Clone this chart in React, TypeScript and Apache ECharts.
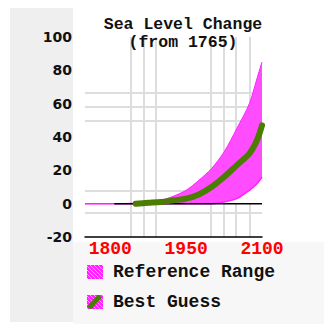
import React, { useEffect, useRef } from "react";
import * as echarts from "echarts";

const years = [1750, 1800, 1850, 1875, 1900, 1925, 1950, 1975, 2000, 2025, 2050, 2075, 2090, 2100];
const upper = [0, 0, 0.3, 1, 2, 4.5, 8, 14, 21, 31, 45, 60, 75, 85];
const lower = [0, 0, 0, 0, 0, 0, 0, 0, 0, 1, 3, 8, 12, 16];
const best = [0, 0, 0, 0.5, 1, 2, 3, 5.5, 10, 16, 23, 30, 38, 47];
const xLabels = [1800, 1950, 2100];
const gridYears = [1840, 1866, 1890, 1998, 2024, 2048, 2076];
const gridValues = [66.5, 58, 49.7, 7.6, -5.6];

function hatchCanvas(w: number, h: number, green: boolean) {
  const c = document.createElement("canvas");
  c.width = w;
  c.height = h;
  const ctx = c.getContext("2d")!;
  ctx.fillStyle = "#ff22ff";
  ctx.fillRect(0, 0, w, h);
  ctx.fillStyle = "#ffaaff";
  for (let y = 0; y < h; y++) {
    for (let x = 0; x < w; x++) {
      if ((x + y) % 4 === 0) ctx.fillRect(x, h - 1 - y, 1, 1);
    }
  }
  if (green) {
    ctx.strokeStyle = "#4b7d00";
    ctx.lineWidth = 5;
    ctx.beginPath();
    ctx.moveTo(2, h - 1);
    ctx.lineTo(w - 3, 1);
    ctx.stroke();
  }
  return c;
}

export default function App() {
  const ref = useRef<HTMLDivElement>(null);
  useEffect(() => {
    if (!ref.current) return;
    const chart = echarts.init(ref.current, null, { renderer: "svg" });
    const iconRange = "image://" + hatchCanvas(16, 14, false).toDataURL();
    const iconBest = "image://" + hatchCanvas(16, 14, true).toDataURL();
    const mono = "'Liberation Mono', 'DejaVu Sans Mono', monospace";
    chart.setOption({
      animation: false,
      backgroundColor: "#ffffff",
      graphic: [
        { type: "rect", z: -10, shape: { x: 10, y: 8, width: 63, height: 314 }, style: { fill: "#efefef" } },
        { type: "rect", z: -10, shape: { x: 73, y: 242, width: 251, height: 82 }, style: { fill: "#f7f7f7" } },
      ],
      title: {
        text: "Sea Level Change",
        subtext: "(from 1765)",
        left: 183,
        top: 16,
        padding: 0,
        itemGap: 1,
        textAlign: "center",
        textStyle: { fontFamily: mono, fontWeight: "bold", fontSize: 16.5, lineHeight: 16, color: "#111" },
        subtextStyle: { fontFamily: mono, fontWeight: "bold", fontSize: 16.5, lineHeight: 16, color: "#111" },
      },
      legend: {
        orient: "vertical",
        left: 87,
        top: 263,
        padding: 0,
        itemWidth: 16,
        itemHeight: 14,
        itemGap: 12,
        selectedMode: false,
        textStyle: { fontFamily: mono, fontWeight: "bold", fontSize: 18, color: "#111", padding: [0, 0, 0, 5] },
        data: [
          { name: "Reference Range", icon: iconRange },
          { name: "Best Guess", icon: iconBest },
        ],
      },
      grid: { left: 85, right: 62, top: 37, bottom: 87 },
      xAxis: {
        type: "value",
        min: 1750,
        max: 2100,
        axisLine: { show: true, onZero: false, lineStyle: { color: "#000", width: 1.5 } },
        axisTick: { show: false },
        splitLine: { show: false },
        axisLabel: {
          customValues: xLabels,
          formatter: (v: number) => String(v),
          margin: 3,
          fontFamily: mono,
          fontWeight: "bold",
          fontSize: 18,
          color: "#ff0000",
        },
      },
      yAxis: {
        type: "value",
        min: -20,
        max: 100,
        interval: 20,
        axisLine: { show: false },
        axisTick: { show: false },
        splitLine: { show: false },
        axisLabel: {
          margin: 13,
          fontFamily: "'DejaVu Sans', sans-serif",
          fontWeight: "bold",
          fontSize: 14,
          color: "#111",
        },
      },
      series: [
        {
          name: "grid",
          type: "line",
          z: 0,
          data: [],
          silent: true,
          markLine: {
            z: 0,
            silent: true,
            symbol: "none",
            label: { show: false },
            lineStyle: { color: "#dddddd", width: 2, type: "solid" },
            data: [
              ...gridYears.map((y) => ({ xAxis: y })),
              ...gridValues.map((v) => ({ yAxis: v })),
            ],
          },
        },
        {
          name: "Reference Range",
          type: "line",
          z: 2,
          symbol: "none",
          smooth: 0.3,
          itemStyle: { color: "#ff33ff" },
          lineStyle: { color: "#ff22ff", width: 1 },
          areaStyle: { color: "#ff4cff", opacity: 1 },
          data: years.map((y, i) => [y, upper[i]]),
        },
        {
          name: "lower",
          type: "line",
          z: 2,
          symbol: "none",
          smooth: 0.3,
          lineStyle: { color: "#ff22ff", width: 1.5 },
          areaStyle: { color: "#ffffff", opacity: 1 },
          data: years.map((y, i) => [y, lower[i]]),
        },
        {
          name: "zero",
          type: "line",
          z: 3,
          symbol: "none",
          silent: true,
          lineStyle: { color: "#000", width: 1.5 },
          data: [[1808, 0], [2100, 0]],
        },
        {
          name: "Best Guess",
          type: "line",
          z: 4,
          symbol: "none",
          smooth: 0.3,
          itemStyle: { color: "#4b7d00" },
          lineStyle: { color: "#4b7d00", width: 6, cap: "round" },
          data: years.map((y, i) => [y, best[i]]).filter((p) => p[0] >= 1850),
        },
      ],
    });
    return () => chart.dispose();
  }, []);
  return (
    <div
      ref={ref}
      style={{ position: "fixed", left: 0, top: 0, width: 324, height: 324, background: "#fff" }}
    />
  );
}
